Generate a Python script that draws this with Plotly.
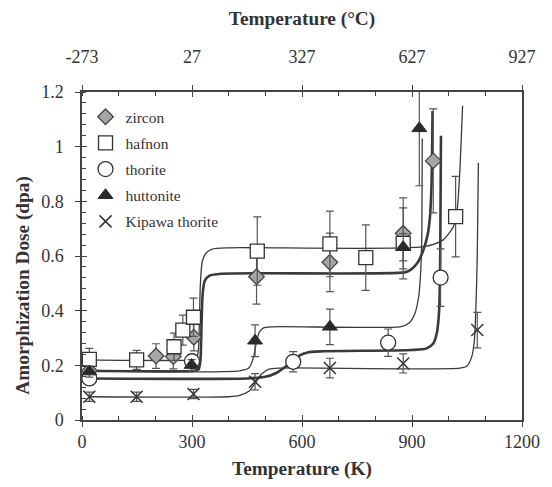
import plotly.graph_objects as go

# ---------------- axis ticks ----------------
K_TICKS = [0, 300, 600, 900, 1200]
K_TICK_LABELS = ["0", "300", "600", "900", "1200"]
C_TICK_LABELS = ["-273", "27", "327", "627", "927"]
Y_TICKS = [0, 0.2, 0.4, 0.6, 0.8, 1.0, 1.2]

# ---------------- measured data (T in K, dose in dpa, error) ----------------
zircon_T = [20, 202, 249, 305, 476, 676, 876, 958]
zircon_D = [0.18, 0.234, 0.232, 0.303, 0.524, 0.577, 0.683, 0.948]
zircon_E = [0.02, 0.045, 0.045, 0.05, 0.10, 0.107, 0.13, 0.19]

hafnon_T = [20, 149, 251, 275, 304, 478, 676, 774, 876, 1019]
hafnon_D = [0.222, 0.22, 0.268, 0.329, 0.376, 0.618, 0.644, 0.594, 0.646, 0.744]
hafnon_E = [0.04, 0.035, 0.05, 0.055, 0.07, 0.125, 0.12, 0.12, 0.13, 0.147]

thorite_T = [20, 300, 576, 835, 978]
thorite_D = [0.152, 0.215, 0.213, 0.283, 0.521]
thorite_E = [0.02, 0.02, 0.037, 0.05, 0.105]

huttonite_T = [20, 299, 472, 676, 876, 920]
huttonite_D = [0.177, 0.201, 0.29, 0.341, 0.632, 1.067]
huttonite_E = [0.02, 0.02, 0.058, 0.065, 0.05, 0.21]

kipawa_T = [20, 149, 304, 472, 676, 876, 1078]
kipawa_D = [0.085, 0.085, 0.095, 0.14, 0.19, 0.207, 0.329]
kipawa_E = [0.017, 0.017, 0.017, 0.03, 0.036, 0.035, 0.065]

# ---------------- fitted curves ----------------
hafnon_fit_T = [20, 300, 312, 317, 320, 323, 328, 338, 355, 400, 931, 985, 1005, 1013, 1019, 1024, 1030, 1038]
hafnon_fit_D = [0.22, 0.22, 0.225, 0.25, 0.35, 0.5, 0.58, 0.61, 0.625, 0.63, 0.634, 0.659, 0.69, 0.707, 0.744, 0.78, 0.9, 1.15]

zircon_fit_T = [20, 305, 318, 323, 326, 329, 335, 348, 380, 880, 895, 915, 931, 943, 949, 953, 955, 956]
zircon_fit_D = [0.18, 0.18, 0.185, 0.22, 0.35, 0.46, 0.51, 0.528, 0.535, 0.54, 0.548, 0.575, 0.622, 0.68, 0.744, 0.85, 1.0, 1.13]

huttonite_fit_T = [20, 430, 455, 468, 475, 483, 495, 520, 870, 892, 908, 918, 924, 927, 928]
huttonite_fit_D = [0.18, 0.18, 0.19, 0.23, 0.28, 0.32, 0.337, 0.341, 0.342, 0.355, 0.39, 0.45, 0.55, 0.7, 1.03]

thorite_fit_T = [20, 450, 500, 530, 555, 576, 595, 615, 650, 900, 940, 958, 968, 974, 977, 979]
thorite_fit_D = [0.152, 0.152, 0.158, 0.172, 0.195, 0.215, 0.237, 0.247, 0.251, 0.256, 0.262, 0.28, 0.32, 0.4, 0.6, 1.04]

kipawa_fit_T = [20, 400, 430, 455, 472, 490, 510, 540, 1031, 1050, 1063, 1070, 1074, 1078, 1081]
kipawa_fit_D = [0.085, 0.085, 0.09, 0.105, 0.135, 0.168, 0.186, 0.19, 0.19, 0.198, 0.232, 0.29, 0.4, 0.6, 0.94]

FONT = "Liberation Serif"
LINE = "#3a3a3a"
ERR = "#555555"

fig = go.Figure()

curves = [
    (hafnon_fit_T, hafnon_fit_D, 1.3),
    (zircon_fit_T, zircon_fit_D, 2.6),
    (huttonite_fit_T, huttonite_fit_D, 1.3),
    (thorite_fit_T, thorite_fit_D, 2.6),
    (kipawa_fit_T, kipawa_fit_D, 1.3),
]
for cx, cy, w in curves:
    fig.add_trace(go.Scatter(
        x=cx, y=cy, mode="lines", showlegend=False, hoverinfo="skip",
        line=dict(color=LINE, width=w, shape="spline", smoothing=0.7),
    ))

series = [
    ("zircon", zircon_T, zircon_D, zircon_E,
     dict(symbol="diamond", size=12, color="#a6a6a6", line=dict(color="#444", width=1.3))),
    ("hafnon", hafnon_T, hafnon_D, hafnon_E,
     dict(symbol="square", size=14, color="white", line=dict(color="#333", width=1.3))),
    ("thorite", thorite_T, thorite_D, thorite_E,
     dict(symbol="circle", size=15, color="white", line=dict(color="#333", width=1.3))),
    ("huttonite", huttonite_T, huttonite_D, huttonite_E,
     dict(symbol="triangle-up", size=13, color="#2a2a2a", line=dict(color="#2a2a2a", width=1))),
    ("Kipawa thorite", kipawa_T, kipawa_D, kipawa_E,
     dict(symbol="x-thin-open", size=12, color="#333", line=dict(color="#333", width=1.5))),
]
for i, (name, tx, dy, ey, mk) in enumerate(series):
    fig.add_trace(go.Scatter(
        x=tx, y=dy, mode="markers", name=name, legendgroup=f"g{i}",
        marker=mk,
        error_y=dict(type="data", array=ey, visible=True, color=ERR, thickness=1.2, width=4),
    ))

# empty traces so that the overlay axes (top axis, crossing ticks) get drawn
for xa, ya in [("x2", "y"), ("x3", "y"), ("x4", "y"), ("x", "y2")]:
    fig.add_trace(go.Scatter(x=[None], y=[None], xaxis=xa, yaxis=ya,
                             mode="markers", showlegend=False, hoverinfo="skip"))

tickfont = dict(family=FONT, size=18, color="#333")
titlefont = dict(family=FONT, size=19.3, color="#333")

common = dict(showgrid=False, zeroline=False, automargin=False)

fig.update_layout(
    width=552, height=487,
    margin=dict(l=74, r=38, t=84, b=75),
    paper_bgcolor="white", plot_bgcolor="white",
    font=dict(family=FONT, color="#333"),
    legend=dict(x=0.008, y=0.975, xanchor="left", yanchor="top",
                bgcolor="rgba(0,0,0,0)", font=dict(family=FONT, size=15.5, color="#333"),
                traceorder="grouped", tracegroupgap=3, itemwidth=30),
    xaxis=dict(range=[0, 1200], tickmode="array", tickvals=K_TICKS, ticktext=K_TICK_LABELS,
               ticks="outside", ticklen=5, tickwidth=1.2, tickcolor="#444",
               minor=dict(tickmode="linear", tick0=0, dtick=100, ticks="inside", ticklen=4, tickcolor="#444"),
               showline=True, linecolor="#444", linewidth=1.5, tickfont=tickfont,
               title=dict(text="<b>Temperature (K)</b>", font=titlefont, standoff=10), **common),
    xaxis3=dict(range=[0, 1200], overlaying="x", anchor="y", side="bottom",
                tickmode="array", tickvals=K_TICKS, ticks="inside", ticklen=5, tickwidth=1.2,
                tickcolor="#444", showticklabels=False, showline=False, **common),
    xaxis2=dict(range=[0, 1200], overlaying="x", anchor="y", side="top",
                tickmode="array", tickvals=K_TICKS, ticktext=C_TICK_LABELS,
                ticks="outside", ticklen=5, tickwidth=1.2, tickcolor="#444",
                minor=dict(tickmode="linear", tick0=0, dtick=100, ticks="inside", ticklen=4, tickcolor="#444"),
                showline=True, linecolor="#444", linewidth=1.5, tickfont=tickfont,
                ticklabelstandoff=15,
                title=dict(text="<b>Temperature (°C)</b>", font=titlefont, standoff=17), **common),
    xaxis4=dict(range=[0, 1200], overlaying="x", anchor="y", side="top",
                tickmode="array", tickvals=K_TICKS, ticks="inside", ticklen=5, tickwidth=1.2,
                tickcolor="#444", showticklabels=False, showline=False, **common),
    yaxis=dict(range=[0, 1.2], tickmode="array", tickvals=Y_TICKS,
               ticks="outside", ticklen=5, tickwidth=1.2, tickcolor="#444",
               minor=dict(tickmode="linear", tick0=0, dtick=0.04, ticks="inside", ticklen=4, tickcolor="#444"),
               showline=True, mirror=True, linecolor="#444", linewidth=1.5, tickfont=tickfont,
               ticklabelstandoff=8, **common),
    yaxis2=dict(range=[0, 1.2], overlaying="y", anchor="x", side="left",
                tickmode="array", tickvals=Y_TICKS, ticks="inside", ticklen=5, tickwidth=1.2,
                tickcolor="#444", showticklabels=False, showline=False, **common),
    annotations=[dict(text="<b>Amorphization Dose (dpa)</b>", textangle=-90,
                      xref="paper", yref="paper", x=-0.136, y=0.41,
                      xanchor="center", yanchor="middle", showarrow=False, font=titlefont)],
)

fig.write_html("out.html")
